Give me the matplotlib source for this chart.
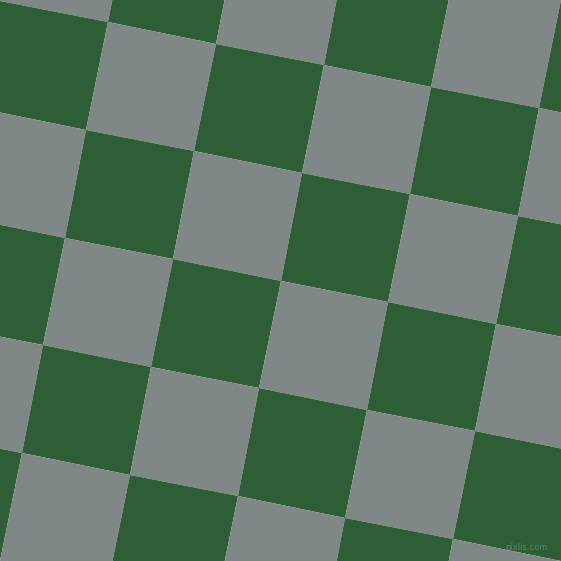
import numpy as np
import matplotlib
matplotlib.use("Agg")
import matplotlib.pyplot as plt
from matplotlib.colors import ListedColormap
from matplotlib.transforms import Affine2D

# Grid cell indices (columns i, rows j) and colour pattern: 0 = gray, 1 = green
cols = [-2, -1, 0, 1, 2, 3, 4, 5, 6]
rows = [-2, -1, 0, 1, 2, 3, 4, 5, 6]
pattern = [
    [0, 1, 0, 1, 0, 1, 0, 1],
    [1, 0, 1, 0, 1, 0, 1, 0],
    [0, 1, 0, 1, 0, 1, 0, 1],
    [1, 0, 1, 0, 1, 0, 1, 0],
    [0, 1, 0, 1, 0, 1, 0, 1],
    [1, 0, 1, 0, 1, 0, 1, 0],
    [0, 1, 0, 1, 0, 1, 0, 1],
    [1, 0, 1, 0, 1, 0, 1, 0],
]
colors = ["#7f8886", "#2e5e35"]
watermark = "pixlis.com"

fig = plt.figure(figsize=(5.61, 5.61), dpi=100)
ax = fig.add_axes([0, 0, 1, 1])
ax.set_xlim(0, 561)
ax.set_ylim(561, 0)
ax.axis("off")

grid_tf = Affine2D(np.array([[107.9, -21.5, 107.7],
                             [21.5, 107.8, 22.0],
                             [0.0, 0.0, 1.0]]))
ax.pcolormesh(cols, rows, np.array(pattern), cmap=ListedColormap(colors),
              vmin=0, vmax=1, transform=grid_tf + ax.transData,
              edgecolors="none", antialiased=True)

ax.text(526, 547, watermark, color="#8a918e", fontsize=6, ha="center",
        va="center", alpha=0.6)

fig.savefig("out.png", dpi=100)
